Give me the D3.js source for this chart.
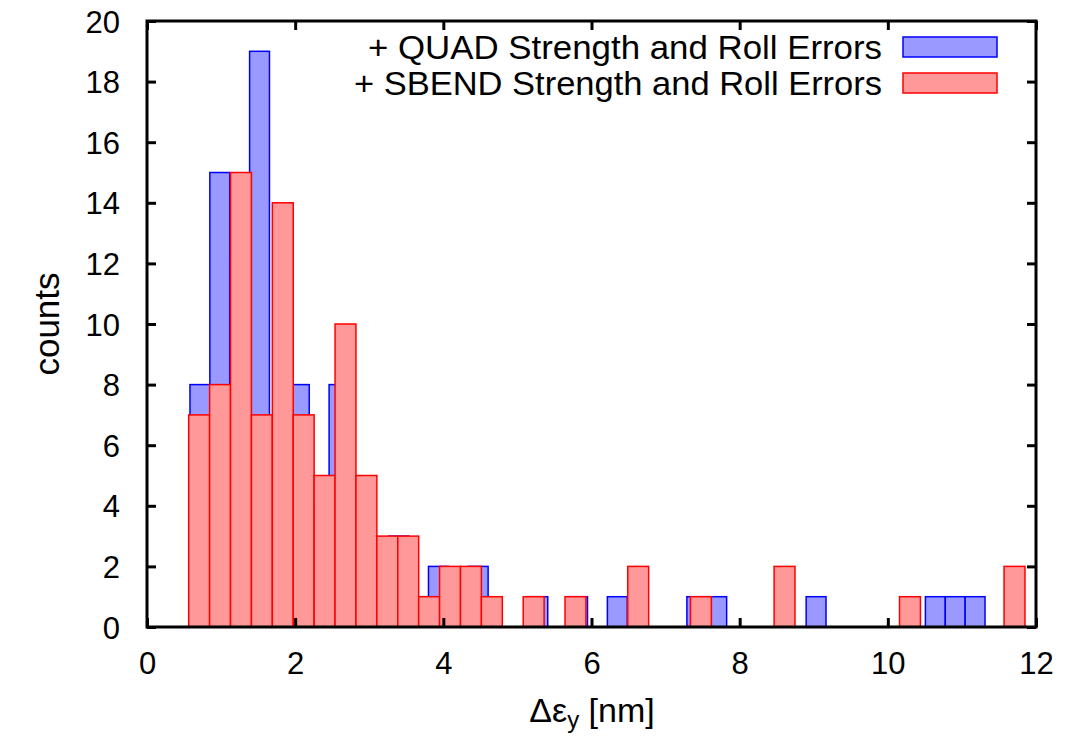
<!DOCTYPE html>
<html><head><meta charset="utf-8">
<script src="https://cdn.jsdelivr.net/npm/d3@7"></script>
<style>body{margin:0;background:#fff}text{font-family:"Liberation Sans",Arial,sans-serif}</style>
</head><body><svg id="c" width="1065" height="737"></svg>
<script>
// Histogram bin layout (data units)
const blueStart = 0.580, blueWidth = 0.2683;
const redStart = 0.563, redWidth = 0.2822;
// counts per bin
const blueCounts = [8,15,12,19,6,8,4,8,1,1,3,1,2,1,2,0,0,1,0,1,0,1,0,0,0,1,1,0,0,0,0,1,0,0,0,0,0,1,1,1];
const redCounts  = [7,8,15,7,14,7,5,10,5,3,3,1,2,2,1,0,1,0,1,0,0,2,0,0,1,0,0,0,2,0,0,0,0,0,1,0,0,0,0,2];
const xTicks = [0,2,4,6,8,10,12];
const yTicks = [0,2,4,6,8,10,12,14,16,18,20];
const legendLabels = ["+ QUAD Strength and Roll Errors","+ SBEND Strength and Roll Errors"];

const svg = d3.select("#c");
const L=147, R=1036, T=21, B=627;
const x = d3.scaleLinear().domain([0,12]).range([L,R]);
const y = d3.scaleLinear().domain([0,20]).range([B,T]);

function bars(counts, start, width, fill, stroke){
  const data = counts.map((c,i)=>({x0:start+i*width, x1:start+(i+1)*width, c})).filter(d=>d.c>0);
  svg.append("g").selectAll("rect").data(data).join("rect")
    .attr("x",d=>x(d.x0)).attr("width",d=>x(d.x1)-x(d.x0))
    .attr("y",d=>y(d.c)).attr("height",d=>y(0)-y(d.c))
    .attr("fill",fill).attr("stroke",stroke).attr("stroke-width",1.5);
}
bars(blueCounts, blueStart, blueWidth, "#9999ff", "#0000ff");
bars(redCounts, redStart, redWidth, "#ff9999", "#ff0000");

// axes with inward ticks, mirrored
const tl = 9, fs = 31;
const gB = svg.append("g").attr("transform",`translate(0,${B})`)
  .call(d3.axisBottom(x).tickValues(xTicks).tickSizeInner(-tl).tickSizeOuter(0).tickPadding(25));
const gT = svg.append("g").attr("transform",`translate(0,${T})`)
  .call(d3.axisTop(x).tickValues(xTicks).tickSizeInner(-tl).tickSizeOuter(0).tickFormat(""));
const gL = svg.append("g").attr("transform",`translate(${L},0)`)
  .call(d3.axisLeft(y).tickValues(yTicks).tickSizeInner(-tl).tickSizeOuter(0).tickPadding(27));
const gR = svg.append("g").attr("transform",`translate(${R},0)`)
  .call(d3.axisRight(y).tickValues(yTicks).tickSizeInner(-tl).tickSizeOuter(0).tickFormat(""));
[gB,gT,gL,gR].forEach(g=>{
  g.select(".domain").remove();
  g.selectAll(".tick line").attr("stroke","#000").attr("stroke-width",3);
  g.selectAll(".tick text").attr("font-size",fs).attr("fill","#000")
   .style("font-family",'"Liberation Sans",Arial,sans-serif');
});
gL.selectAll(".tick text").attr("dy","0.36em");
svg.append("rect").attr("x",L).attr("y",T).attr("width",R-L).attr("height",B-T)
  .attr("fill","none").attr("stroke","#000").attr("stroke-width",3);

// labels
svg.append("text").attr("transform",`translate(59,${(T+B)/2}) rotate(-90)`)
  .attr("text-anchor","middle").attr("font-size",35).text("counts");
const xl = svg.append("text").attr("x",592).attr("y",722).attr("text-anchor","middle").attr("font-size",34);
xl.append("tspan").text("Δε");
xl.append("tspan").attr("font-size",24).attr("dy",6).text("y");
xl.append("tspan").attr("dy",-6).text(" [nm]");

// legend
const legFill=["#9999ff","#ff9999"], legStroke=["#0000ff","#ff0000"];
const legWidth=[514,528];
legendLabels.forEach((t,i)=>{
  const cy = 47 + i*36;
  svg.append("text").attr("x",882).attr("y",cy+12).attr("text-anchor","end").attr("font-size",34)
    .attr("textLength",legWidth[i]).attr("lengthAdjust","spacingAndGlyphs").text(t);
  svg.append("rect").attr("x",903).attr("y",cy-10).attr("width",94).attr("height",20)
    .attr("fill",legFill[i]).attr("stroke",legStroke[i]).attr("stroke-width",1.5);
});
</script></body></html>
